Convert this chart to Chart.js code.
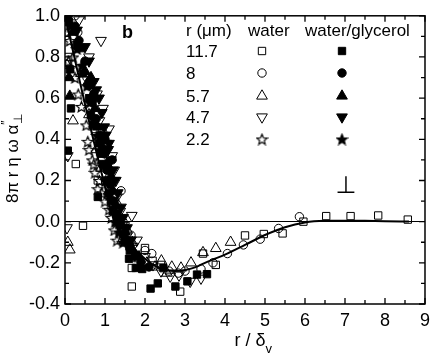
<!DOCTYPE html>
<html>
<head>
<meta charset="utf-8">
<script src="https://cdn.jsdelivr.net/npm/chart.js@4.4.1/dist/chart.umd.min.js"></script>
<style>
  html, body { margin: 0; padding: 0; background: #fff; }
</style>
</head>
<body>
<canvas id="fig" width="436" height="356"></canvas>
<script>
// axis ranges and tick labels
const xMin = 0, xMax = 9, xStep = 1, xMinorStep = 0.5;
const yMin = -0.4, yMax = 1.0, yStep = 0.2, yMinorStep = 0.1;

// legend rows: bead radius r in um
const radii = ['11.7', '8', '5.7', '4.7', '2.2'];

// water, open symbols  [r/delta, 8 pi r eta omega alpha'']
const water117 = [[0.08,0.8],[0.27,0.28],[0.45,-0.02],[0.82,0.2],[0.75,0.45],[1.2,0.05],[1.5,-0.1],[1.67,-0.225],
  [1.67,-0.315],[2.0,-0.128],[2.19,-0.19],[2.4,-0.21],[2.88,-0.34],[3.45,-0.155],[3.77,-0.21],[4.5,-0.067],
  [4.97,-0.06],[5.44,-0.057],[5.96,0.0],[6.53,0.027],[7.14,0.027],[7.83,0.03],[8.57,0.01]];
const water8 = [[0.25,1.0],[0.32,0.92],[0.55,0.7],[0.9,0.3],[1.1,0.17],[1.4,0.15],[1.3,0.03],[1.45,0.0],[1.65,-0.066],
  [2.0,-0.14],[2.17,-0.155],[2.6,-0.24],[2.83,-0.25],[3.0,-0.24],[3.4,-0.23],[3.7,-0.2],[4.06,-0.155],
  [4.46,-0.113],[4.88,-0.085],[5.34,-0.033],[5.86,0.024]];
const water57 = [[0.05,0.76],[0.2,0.49],[0.07,-0.1],[0.12,-0.137],[0.4,0.72],[0.6,0.52],[0.78,0.35],[0.9,0.26],
  [1.1,0.15],[1.3,0.09],[1.43,-0.09],[1.55,-0.04],[1.68,-0.1],[1.85,-0.18],[2.05,-0.2],[2.25,-0.22],[2.41,-0.19],
  [2.55,-0.25],[2.67,-0.22],[2.9,-0.225],[3.15,-0.2],[3.45,-0.15],[3.77,-0.13],[4.14,-0.1]];
const water47 = [[0.07,0.32],[0.05,-0.03],[0.35,0.98],[0.9,0.88],[0.6,0.8],[0.8,0.62],[0.95,0.55],[0.86,0.49],
  [1.1,0.45],[1.03,0.38],[1.18,0.32],[1.23,0.25],[1.27,0.2],[1.3,0.12],[1.38,0.05],[1.48,-0.02],[1.67,0.03],
  [1.55,-0.07],[1.8,-0.09],[1.7,-0.12],[2.0,-0.17],[2.2,-0.21],[2.4,-0.24],[2.63,-0.265],[2.85,-0.26],
  [3.13,-0.29],[3.4,-0.275]];
const water22 = [[0.05,0.92],[0.12,0.88],[0.08,0.78],[0.2,0.8],[0.15,0.75],[0.25,0.7],[0.33,0.62],[0.41,0.56],
  [0.53,0.47],[0.57,0.39],[0.6,0.35],[0.68,0.3],[0.72,0.28],[0.75,0.24],[0.86,0.2],[0.82,0.16],[0.92,0.14],
  [1.0,0.1],[1.1,0.06],[1.16,0.02],[1.23,-0.04],[1.3,-0.09]];

// water/glycerol, filled symbols
const glyc117 = [[0.12,0.74],[0.15,0.55],[0.07,0.345],[0.1,0.97],[0.3,0.86],[0.45,0.72],[0.6,0.6],[0.65,0.52],
  [0.7,0.47],[0.85,0.38],[0.9,0.33],[0.95,0.28],[1.05,0.2],[1.1,0.14],[0.82,0.12],[1.15,0.1],[1.3,0.02],
  [1.45,-0.06],[1.62,-0.14],[1.6,-0.18],[1.77,-0.225],[1.93,-0.23],[2.14,-0.325],[2.32,-0.3],[2.46,-0.226],
  [2.76,-0.315],[3.06,-0.29],[3.3,-0.257],[3.55,-0.255]];
const glyc8 = [[0.08,1.0],[0.25,0.95],[0.35,0.88],[0.5,0.78],[0.6,0.66],[0.72,0.62],[0.68,0.58],[0.78,0.5],
  [0.88,0.42],[1.0,0.4],[0.98,0.33],[1.18,0.3],[1.05,0.25],[1.12,0.18],[1.22,0.1],[1.3,0.04],[1.38,-0.02],
  [1.5,-0.08],[1.62,-0.13],[1.75,-0.17],[1.9,-0.2],[2.1,-0.22]];
const glyc57 = [[0.1,0.7],[0.12,0.61],[0.2,0.92],[0.38,0.84],[0.5,0.73],[0.65,0.7],[0.58,0.68],[0.68,0.6],
  [0.75,0.55],[0.82,0.46],[0.9,0.4],[0.95,0.36],[1.05,0.28],[1.15,0.22],[1.2,0.15],[1.28,0.08],[1.38,0.0],
  [1.5,-0.05],[1.6,-0.1],[1.7,-0.14],[1.85,-0.17]];
const glyc47 = [[0.3,0.93],[0.5,0.85],[0.6,0.78],[0.72,0.68],[0.78,0.64],[0.85,0.6],[0.92,0.53],[0.98,0.46],
  [1.02,0.42],[1.1,0.38],[1.08,0.35],[1.15,0.3],[1.2,0.25],[1.25,0.2],[1.32,0.14],[1.4,0.07],[1.45,0.02],
  [1.55,-0.03],[1.65,-0.09]];
const glyc22 = [[0.02,1.0],[0.15,0.95],[0.3,0.84],[0.42,0.76],[0.55,0.66],[0.62,0.58],[0.7,0.5],[0.8,0.42],
  [0.88,0.35],[0.95,0.27],[1.02,0.2],[1.1,0.13],[1.18,0.06],[1.25,0.0],[1.35,-0.05],[1.45,-0.1]];

// theory curve
const theoryX = [0, 0.25, 0.5, 0.75, 1.0, 1.25, 1.5, 1.75, 2.0, 2.25, 2.5, 2.75, 3.0, 3.25, 3.5, 3.75, 4.0,
  4.5, 5.0, 5.5, 6.0, 6.5, 7.0, 7.5, 8.0, 8.6];
const theoryY = [1.0, 0.785, 0.57, 0.365, 0.17, -0.01, -0.08, -0.135, -0.18, -0.215, -0.235, -0.24, -0.235,
  -0.222, -0.2, -0.18, -0.16, -0.113, -0.065, -0.027, -0.004, 0.004, 0.005, 0.004, 0.002, 0.001];

const FONT = '"Liberation Sans", Arial, sans-serif';

// five pointed star marker (chart.js 'star' is an asterisk)
function starMarker(filled, size) {
  const c = document.createElement('canvas');
  c.width = c.height = size;
  const g = c.getContext('2d');
  const m = size / 2, ro = size / 2 - 1, ri = ro * 0.45;
  g.beginPath();
  for (let i = 0; i < 10; i++) {
    const r = i % 2 ? ri : ro;
    const a = -Math.PI / 2 + i * Math.PI / 5;
    g.lineTo(m + r * Math.cos(a), m + 0.8 + r * Math.sin(a));
  }
  g.closePath();
  if (filled) { g.fillStyle = '#000'; g.fill(); }
  g.lineWidth = 1.2;
  g.strokeStyle = '#000';
  g.stroke();
  return c;
}
const openStar = starMarker(false, 13);
const fullStar = starMarker(true, 13);

const toPts = arr => arr.map(p => ({x: p[0], y: p[1]}));

// marker style for each row: [pointStyle, radius, rotation]
const markers = [
  ['rect', 5.2, 0],
  ['circle', 4.2, 0],
  ['triangle', 6.2, 0],
  ['triangle', 6.2, 180],
  [null, 6, 0]
];
const waterSets = [water117, water8, water57, water47, water22];
const glycSets = [glyc117, glyc8, glyc57, glyc47, glyc22];

const datasets = [];
waterSets.concat(glycSets).forEach((set, i) => {
  const row = i % 5, filled = i >= 5;
  const m = markers[row];
  datasets.push({
    label: (filled ? 'water/glycerol ' : 'water ') + radii[row],
    data: toPts(set),
    pointStyle: m[0] || (filled ? fullStar : openStar),
    pointRadius: m[1],
    pointRotation: m[2],
    pointBorderWidth: 1,
    borderColor: '#000',
    backgroundColor: filled ? '#000' : 'rgba(0,0,0,0)',
    showLine: false,
    order: 2
  });
});
datasets.push({
  label: 'theory',
  data: theoryX.map((x, i) => ({x: x, y: theoryY[i]})),
  showLine: true,
  borderColor: '#000',
  borderWidth: 2,
  pointRadius: 0,
  cubicInterpolationMode: 'monotone',
  order: 1
});

// frame, inward ticks, labels, in-plot legend
const decor = {
  id: 'decor',
  afterDraw(chart) {
    const {ctx, chartArea: a, scales: {x, y}} = chart;
    ctx.save();
    ctx.strokeStyle = '#000';
    ctx.lineWidth = 1.5;
    ctx.strokeRect(a.left, a.top, a.right - a.left, a.bottom - a.top);

    ctx.lineWidth = 1.3;
    ctx.beginPath();
    for (let v = xMin; v <= xMax + 1e-9; v += xMinorStep) {
      const px = x.getPixelForValue(v);
      const len = Math.abs(v / xStep - Math.round(v / xStep)) < 1e-6 ? 6 : 4;
      ctx.moveTo(px, a.bottom); ctx.lineTo(px, a.bottom - len);
      ctx.moveTo(px, a.top); ctx.lineTo(px, a.top + len);
    }
    for (let k = 0; k <= Math.round((yMax - yMin) / yMinorStep); k++) {
      const v = yMin + k * yMinorStep;
      const py = y.getPixelForValue(v);
      const len = k % 2 === 0 ? 6 : 4;
      ctx.moveTo(a.left, py); ctx.lineTo(a.left + len, py);
      ctx.moveTo(a.right, py); ctx.lineTo(a.right - len, py);
    }
    ctx.stroke();

    ctx.fillStyle = '#000';
    ctx.textBaseline = 'alphabetic';

    // x title: r / delta_v
    ctx.font = '18px ' + FONT;
    ctx.textAlign = 'left';
    const xt = 'r / \u03b4';
    const xw = ctx.measureText(xt).width;
    const xc = (a.left + a.right) / 2 + 8;
    ctx.fillText(xt, xc - xw / 2 - 3, 346);
    ctx.font = '13px ' + FONT;
    ctx.fillText('v', xc + xw / 2 - 3, 353);

    // y title: 8 pi r eta omega alpha''_perp
    ctx.save();
    ctx.translate(13, (a.top + a.bottom) / 2);
    ctx.rotate(-Math.PI / 2);
    ctx.font = '17px ' + FONT;
    const yt = '8\u03c0 r \u03b7 \u03c9 \u03b1';
    const yw = ctx.measureText(yt).width;
    const start = -(yw + 8) / 2;
    ctx.textBaseline = 'middle';
    ctx.fillText(yt, start, 0);
    ctx.font = '12px ' + FONT;
    ctx.fillText('\u2033', start + yw, -6);
    ctx.fillText('\u22a5', start + yw + 1, 6);
    ctx.restore();

    // panel letter
    ctx.font = 'bold 18px ' + FONT;
    ctx.fillText('b', 122, 38);

    // legend table
    ctx.font = '17px ' + FONT;
    ctx.fillText('r (\u03bcm)', 186, 36);
    ctx.fillText('water', 248, 36);
    ctx.fillText('water/glycerol', 305, 36);
    const rowY = [51, 73, 96, 117, 139];
    radii.forEach((r, i) => {
      ctx.fillText(r, 186, rowY[i] + 6);
      const m = markers[i];
      const opt = {
        pointStyle: m[0] || openStar, radius: m[1], rotation: m[2], borderWidth: 1
      };
      ctx.strokeStyle = '#000';
      ctx.lineWidth = 1;
      ctx.fillStyle = 'rgba(0,0,0,0)';
      Chart.helpers.drawPoint(ctx, opt, 262, rowY[i]);
      ctx.fillStyle = '#000';
      opt.pointStyle = m[0] || fullStar;
      Chart.helpers.drawPoint(ctx, opt, 342, rowY[i]);
    });

    // perpendicular sign
    ctx.font = '24px "DejaVu Sans"';
    ctx.textAlign = 'center';
    ctx.fillText('\u22a5', 346, 193);
    ctx.restore();
  }
};

new Chart(document.getElementById('fig'), {
  type: 'scatter',
  data: {datasets: datasets},
  options: {
    responsive: false,
    animation: false,
    devicePixelRatio: 1,
    layout: {padding: {top: 8, right: 6, left: 0, bottom: 0}},
    plugins: {legend: {display: false}, tooltip: {enabled: false}},
    scales: {
      x: {
        type: 'linear', min: xMin, max: xMax,
        ticks: {stepSize: xStep, color: '#000', font: {family: FONT, size: 18}, padding: 6, maxRotation: 0},
        grid: {display: false, drawTicks: false},
        border: {display: false},
        afterFit(s) { s.height = 52; }
      },
      y: {
        min: yMin, max: yMax,
        ticks: {stepSize: yStep, color: '#000', font: {family: FONT, size: 18}, padding: 5,
          callback: v => (Math.abs(v) < 1e-9 ? 0 : v).toFixed(1)},
        grid: {drawTicks: false, lineWidth: 1,
          color: c => (c.tick && Math.abs(c.tick.value) < 1e-9) ? '#000' : 'rgba(0,0,0,0)'},
        border: {display: false},
        afterFit(s) { s.width = 65; }
      }
    }
  },
  plugins: [decor]
});
</script>
</body>
</html>
